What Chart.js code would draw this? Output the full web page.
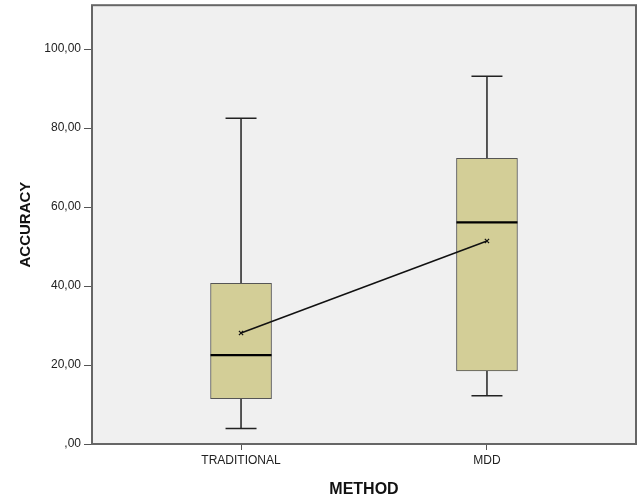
<!DOCTYPE html>
<html>
<head>
<meta charset="utf-8">
<script src="https://cdn.jsdelivr.net/npm/chart.js@4/dist/chart.umd.min.js"></script>
<style>
html,body{margin:0;padding:0;background:#fff;}
#wrap{width:644px;height:501px;position:relative;}
</style>
</head>
<body>
<div id="wrap"><canvas id="c" width="644" height="501"></canvas></div>
<script>
// ---- data ----
const categories = ['TRADITIONAL', 'MDD'];
const minV   = [3.9, 12.2];
const q1V    = [11.5, 18.5];
const medV   = [22.5, 56.1];
const q3V    = [40.7, 72.3];
const maxV   = [82.5, 93.1];
const meanV  = [28.1, 51.4];
const yTicks = [0, 20, 40, 60, 80, 100];
const yTickLabels = [',00', '20,00', '40,00', '60,00', '80,00', '100,00'];
const xTitle = 'METHOD';
const yTitle = 'ACCURACY';

// ---- build datasets ----
const capHalf = 0.063, boxHalf = 0.124;
const boxData = categories.map((c, i) => ({x: i, y: [q1V[i], q3V[i]]}));
const whiskerData = [], capData = [], medianData = [];
categories.forEach((c, i) => {
  whiskerData.push({x: i, y: q3V[i]}, {x: i, y: maxV[i]}, {x: i, y: null});
  whiskerData.push({x: i, y: q1V[i]}, {x: i, y: minV[i]}, {x: i, y: null});
  capData.push({x: i - capHalf, y: maxV[i]}, {x: i + capHalf, y: maxV[i]}, {x: i, y: null});
  capData.push({x: i - capHalf, y: minV[i]}, {x: i + capHalf, y: minV[i]}, {x: i, y: null});
  medianData.push({x: i - boxHalf, y: medV[i]}, {x: i + boxHalf, y: medV[i]}, {x: i, y: null});
});
const meanData = categories.map((c, i) => ({x: i, y: meanV[i]}));

const FONT = "'Liberation Sans', Arial, sans-serif";

const bgPlugin = {
  id: 'bg',
  beforeDraw(chart) {
    const {ctx, chartArea: a} = chart;
    ctx.save();
    ctx.fillStyle = '#f0f0f0';
    ctx.fillRect(a.left, a.top, a.right - a.left, a.bottom - a.top);
    ctx.restore();
  },
  afterDraw(chart) {
    const {ctx, chartArea: a} = chart;
    ctx.save();
    ctx.strokeStyle = '#666';
    ctx.lineWidth = 2;
    ctx.strokeRect(a.left, a.top, a.right - a.left, a.bottom - a.top);
    ctx.restore();
  }
};

new Chart(document.getElementById('c'), {
  type: 'bar',
  data: {
    datasets: [
      {type: 'line', data: whiskerData, borderColor: '#222', borderWidth: 1.5, pointRadius: 0, spanGaps: false, order: 3},
      {type: 'line', data: capData, borderColor: '#222', borderWidth: 1.5, pointRadius: 0, spanGaps: false, order: 3},
      {type: 'bar', data: boxData, backgroundColor: '#d3ce97', borderColor: '#555', borderWidth: 1, borderSkipped: false, barThickness: 61, grouped: false, order: 2},
      {type: 'line', data: medianData, borderColor: '#000', borderWidth: 2.2, pointRadius: 0, spanGaps: false, order: 1},
      {type: 'line', data: meanData, borderColor: '#111', borderWidth: 1.5, pointStyle: 'crossRot', pointRadius: 3, pointBorderColor: '#111', pointBorderWidth: 1.2, order: 0}
    ]
  },
  options: {
    responsive: false,
    animation: false,
    events: [],
    layout: {padding: {left: 0, top: 4, right: 8, bottom: 0}},
    plugins: {legend: {display: false}, tooltip: {enabled: false}},
    scales: {
      x: {
        type: 'linear',
        offset: false,
        min: -0.606, max: 1.606,
        afterBuildTicks(s) { s.ticks = categories.map((c, i) => ({value: i})); },
        afterFit(s) { s.height = 57; s.paddingLeft = 0; s.paddingRight = 0; },
        ticks: {callback: v => categories[v] ?? '', font: {family: FONT, size: 12}, color: '#222', padding: 3, maxRotation: 0},
        grid: {display: true, offset: false, drawOnChartArea: false, drawTicks: true, tickLength: 6, color: '#555'},
        border: {display: false},
        title: {display: true, text: xTitle, font: {family: FONT, size: 16, weight: 'bold'}, color: '#111', padding: {top: 0, bottom: 2}}
      },
      y: {
        min: 0, max: 111.1,
        afterBuildTicks(s) { s.ticks = yTicks.map(v => ({value: v})); },
        afterFit(s) { s.width = 92; s.paddingTop = 0; s.paddingBottom = 0; },
        ticks: {callback: (v) => yTickLabels[yTicks.indexOf(v)] ?? '', font: {family: FONT, size: 12}, color: '#222', padding: 3},
        grid: {display: true, drawOnChartArea: false, drawTicks: true, tickLength: 8, color: '#555'},
        border: {display: false},
        title: {display: true, text: yTitle, font: {family: FONT, size: 15, weight: 'bold'}, color: '#111', padding: {top: 17, bottom: 0}}
      }
    }
  },
  plugins: [bgPlugin]
});
</script>
</body>
</html>
